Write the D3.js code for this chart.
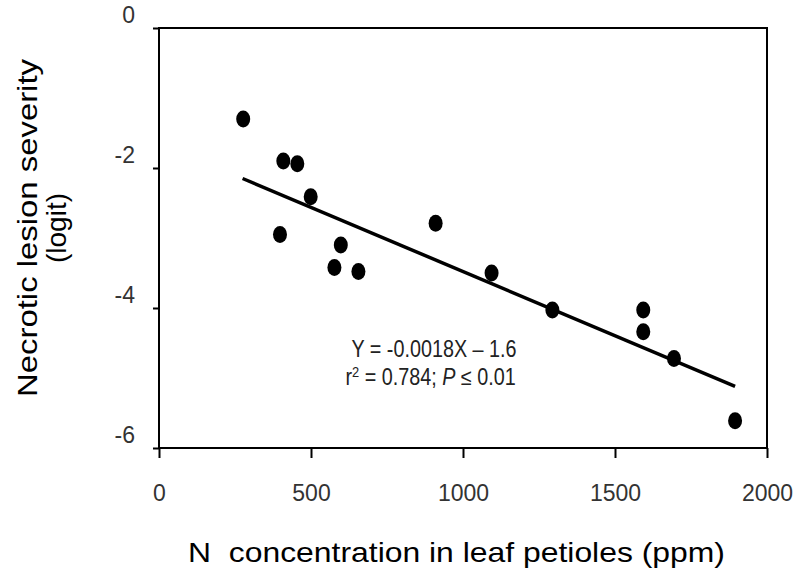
<!DOCTYPE html>
<html>
<head>
<meta charset="utf-8">
<script src="https://cdn.jsdelivr.net/npm/d3@7"></script>
<style>
  body { margin: 0; background: #fff; }
  text { font-family: "Liberation Sans", Arial, sans-serif; }
</style>
</head>
<body>
<div id="chart"></div>
<script>
// N concentration (ppm) and lesion severity (logit)
var nConc = [277, 409, 455, 499, 398, 598, 577, 656, 910, 1094, 1294, 1593, 1593, 1694, 1895];
var severity = [-1.30, -1.90, -1.94, -2.41, -2.95, -3.10, -3.42, -3.48, -2.79, -3.50, -4.03, -4.03, -4.34, -4.72, -5.61];

// fitted regression line end points
var fitX = [275, 1895];
var fitY = [-2.15, -5.12];

var xTicks = [0, 500, 1000, 1500, 2000];
var yTicks = [0, -2, -4, -6];

var width = 795, height = 576;
var margin = {top: 28, right: 28, bottom: 128, left: 159};

var svg = d3.select('#chart')
    .append('svg')
    .attr('width', width)
    .attr('height', height);

var x = d3.scaleLinear()
    .domain([0, 2000])
    .range([margin.left, width - margin.right]);

var y = d3.scaleLinear()
    .domain([0, -6])
    .range([margin.top, height - margin.bottom]);

// box
svg.append('rect')
    .attr('x', x(0))
    .attr('y', y(0))
    .attr('width', x(2000) - x(0))
    .attr('height', y(-6) - y(0))
    .attr('fill', 'none')
    .attr('stroke', '#000')
    .attr('stroke-width', 2);

// x axis
var xAxis = svg.append('g')
    .attr('transform', 'translate(0,' + y(-6) + ')')
    .call(d3.axisBottom(x).tickValues(xTicks).tickSize(10).tickPadding(27).tickFormat(d3.format('d')));
xAxis.select('.domain').remove();
xAxis.selectAll('line').attr('stroke', '#000').attr('stroke-width', 2);
xAxis.selectAll('text')
    .attr('fill', '#333')
    .style('font-size', '23px');

// y axis
var yAxis = svg.append('g')
    .attr('transform', 'translate(' + x(0) + ',0)')
    .call(d3.axisLeft(y).tickValues(yTicks).tickSize(6).tickPadding(18).tickFormat(d3.format('d')));
yAxis.select('.domain').remove();
yAxis.selectAll('line').attr('stroke', '#000').attr('stroke-width', 2);
yAxis.selectAll('text')
    .attr('fill', '#333')
    .attr('dy', '-0.22em')
    .style('font-size', '23px')
    .text(function(d) { return d === 0 ? '0' : '-' + Math.abs(d); });

// regression line
svg.append('line')
    .attr('x1', x(fitX[0]))
    .attr('y1', y(fitY[0]))
    .attr('x2', x(fitX[1]))
    .attr('y2', y(fitY[1]))
    .attr('stroke', '#000')
    .attr('stroke-width', 3.5);

// points
svg.selectAll('.dot')
    .data(nConc)
    .enter()
    .append('ellipse')
    .attr('class', 'dot')
    .attr('cx', function(d) { return x(d); })
    .attr('cy', function(d, i) { return y(severity[i]); })
    .attr('rx', 7)
    .attr('ry', 8.5)
    .attr('fill', '#000');

// equation (text in the figure is a bit condensed)
var eq = svg.append('g')
    .attr('transform', 'translate(434,0) scale(0.86,1)')
    .attr('fill', '#222')
    .style('font-size', '23px');
eq.append('text')
    .attr('x', 0)
    .attr('y', 357)
    .attr('text-anchor', 'middle')
    .text('Y = -0.0018X \u2013 1.6');
var eq2 = eq.append('text')
    .attr('x', -4)
    .attr('y', 385)
    .attr('text-anchor', 'middle');
eq2.append('tspan').text('r');
eq2.append('tspan').attr('dy', -8).style('font-size', '15px').text('2');
eq2.append('tspan').attr('dy', 8).text(' = 0.784; ');
eq2.append('tspan').style('font-style', 'italic').text('P');
eq2.append('tspan').text(' \u2264 0.01');

// axis titles
svg.append('text')
    .attr('x', 188)
    .attr('y', 562)
    .attr('fill', '#000')
    .style('font-size', '28px')
    .attr('xml:space', 'preserve')
    .attr('textLength', 537)
    .attr('lengthAdjust', 'spacingAndGlyphs')
    .text('N  concentration in leaf petioles (ppm)');

var yt = svg.append('g')
    .attr('transform', 'translate(0,228) rotate(-90)')
    .attr('fill', '#000')
    .style('font-size', '28px');
yt.append('text')
    .attr('x', -169)
    .attr('y', 37)
    .attr('textLength', 338)
    .attr('lengthAdjust', 'spacingAndGlyphs')
    .text('Necrotic lesion severity');
yt.append('text')
    .attr('x', 0)
    .attr('y', 66)
    .attr('text-anchor', 'middle')
    .text('(logit)');
</script>
</body>
</html>
